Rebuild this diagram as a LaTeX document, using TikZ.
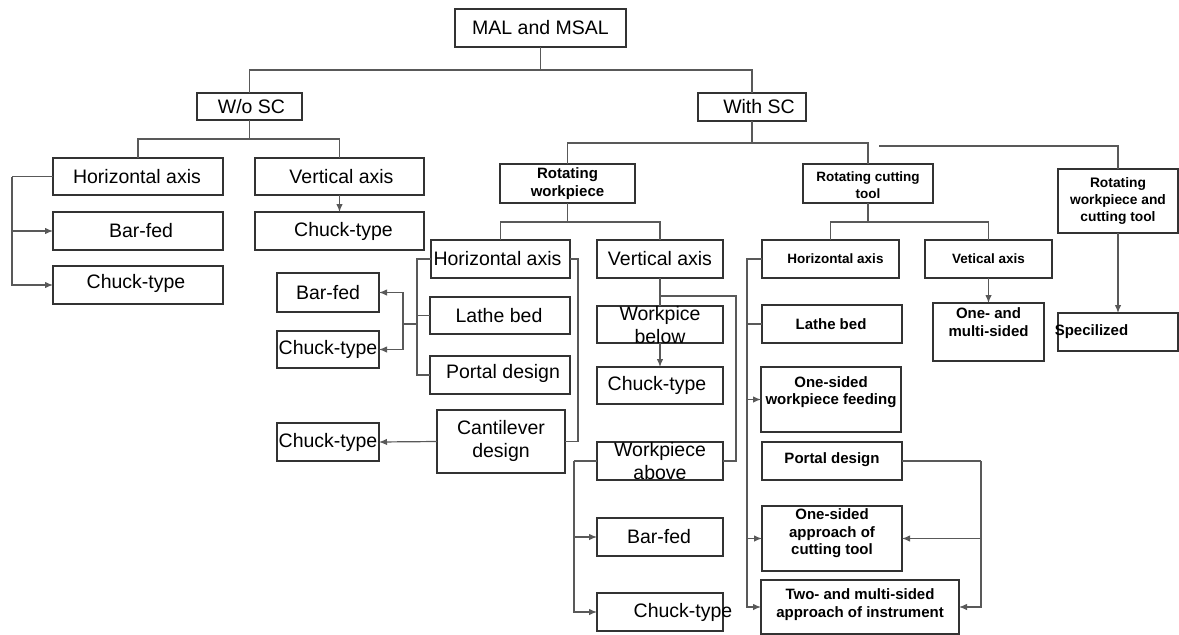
\documentclass[tikz,border=0pt]{standalone}
\usepackage{fontspec}
\setmainfont{Liberation Sans}
\usetikzlibrary{arrows.meta}
\newcommand\mybox[9]{%
  \node[boxst, minimum width={(#4-#2)*1pt}, minimum height={(#5-#3)*1pt}] (#1) at ({(#2+#4)/2},{(#3+#5)/2}) {};
  \node[#6] (#1-t) at ([shift={(#7,#8)}]#1.center) {#9};}
\tikzset{
  boxst/.style={draw=black!80, line width=1.1pt, rectangle, inner sep=0pt, outer sep=0pt},
  rg/.style={font=\fontsize{19.5}{23}\selectfont, align=center, inner sep=0pt},
  bh/.style={font=\bfseries\fontsize{13.5}{16.5}\selectfont, align=center, inner sep=0pt},
  bw/.style={font=\bfseries\fontsize{15}{18}\selectfont, align=center, inner sep=0pt},
  bl/.style={font=\bfseries\fontsize{15}{17.5}\selectfont, align=center, inner sep=0pt},
  ln/.style={draw=black!65, line width=1.2pt},
  arr/.style={ln, -{Latex[length=8pt,width=6.5pt]}}
}
\begin{document}
\begin{tikzpicture}[x=1pt,y=-1pt]
\fill[white] (0,0) rectangle (1179,635);
\useasboundingbox (0,0) rectangle (1179,635);
% top
\mybox{mal}{455}{9}{626}{47}{rg}{0}{0}{MAL and MSAL}
\mybox{wo}{197}{93}{302}{120}{rg}{2}{0}{W/o SC}
\mybox{with}{698}{93}{806}{121}{rg}{7}{0}{With SC}
% left branch
\mybox{lha}{53}{158}{223}{195}{rg}{-1}{0}{Horizontal axis}
\mybox{lva}{255}{158}{424}{195}{rg}{2}{0}{Vertical axis}
\mybox{lbf}{53}{212}{223}{250}{rg}{3}{0}{Bar-fed}
\mybox{lct}{53}{266}{223}{304}{rg}{-2}{-2}{Chuck-type}
\mybox{lvct}{255}{212}{424}{250}{rg}{4}{0}{Chuck-type}
% with SC level
\mybox{rw}{500}{164}{635}{203}{bw}{0}{0}{Rotating\\workpiece}
\mybox{rct}{803}{164}{933}{203}{bh}{0}{1.5}{Rotating cutting\\tool}
\mybox{rwct}{1058}{169}{1178}{233}{font=\bfseries\fontsize{13.8}{17}\selectfont, align=center, inner sep=0pt}{0}{0}{Rotating\\workpiece and\\cutting tool}
\mybox{spec}{1058}{313}{1178}{351}{bl}{-26.5}{0}{Specilized}
% rotating workpiece
\mybox{mha}{431}{240}{570}{278}{rg}{-3}{0}{Horizontal axis}
\mybox{mva}{597}{240}{723}{278}{rg}{0}{0}{Vertical axis}
\mybox{mlb}{430}{297}{570}{334}{rg}{-1}{0}{Lathe bed}
\mybox{mpd}{430}{356}{570}{394}{rg}{3}{-2}{Portal design}
\mybox{cant}{437}{410}{565}{473}{rg}{0}{-1}{Cantilever\\design}
\mybox{bf2}{277}{273}{379}{312}{rg}{0}{0}{Bar-fed}
\mybox{ct2}{277}{331}{379}{368}{rg}{0}{0}{Chuck-type}
\mybox{ct3}{277}{423}{379}{461}{rg}{0}{0}{Chuck-type}
\mybox{wb}{597}{306}{723}{343}{rg}{0}{0.5}{Workpice\\below}
\mybox{ct4}{597}{367}{723}{404}{rg}{-3}{0}{Chuck-type}
\mybox{wa}{597}{442}{723}{480}{rg}{0}{0.5}{Workpiece\\above}
\mybox{bf5}{597}{518}{723}{556}{rg}{-1}{0}{Bar-fed}
\mybox{ct5}{597}{593}{723}{631}{rg}{23}{0}{Chuck-type}
% rotating cutting tool
\mybox{rha}{762}{240}{899}{278}{bh}{5}{0}{Horizontal axis}
\mybox{rva}{925}{240}{1052}{278}{bh}{0}{0}{Vetical axis}
\mybox{oms}{933}{303}{1044}{361}{bl}{0}{-10}{One- and\\multi-sided}
\mybox{rlb}{762}{305}{902}{343}{bl}{-1}{0}{Lathe bed}
\mybox{osf}{761}{367}{901}{432}{bl}{0}{-7.5}{One-sided\\workpiece feeding}
\mybox{rpd}{762}{442}{902}{480}{bl}{0}{-1}{Portal design}
\mybox{osa}{762}{506}{902}{571}{bl}{0}{-5}{One-sided\\approach of\\cutting tool}
\mybox{tms}{761}{580}{959}{634}{bl}{0}{-2.5}{Two- and multi-sided\\approach of instrument}
% junctions
\coordinate (j0) at (540.5,70);
\coordinate (j2) at (249.5,139);
\coordinate (j1) at (752,143);
\coordinate (fr) at (879,146);
\coordinate (j3) at (567.5,222);
\coordinate (j4) at (868,222);
\coordinate (L1) at (12,176.5);
\coordinate (L2) at (417,259);
\coordinate (L3) at (403,324);
\coordinate (R2) at (578,259);
\coordinate (V1) at (660,296);
\coordinate (R3) at (736,296);
\coordinate (L4) at (574,461);
\coordinate (L5) at (747,259);
\coordinate (R5) at (981,461);
% connectors
\draw[ln] (mal.south) -- (j0);
\draw[ln] (wo.north) |- (j0) -| (with.north);
\draw[ln] (wo.south) -- (j2);
\draw[ln] (lha.north) |- (j2) -| (lva.north);
\draw[ln] (lha.west) -- (L1);
\draw[arr] (L1) |- (lbf.west);
\draw[arr] (L1) |- (lct.west);
\draw[arr] (lva.south) -- (lvct.north);
\draw[ln] (with.south) -- (j1);
\draw[ln] (rw.north) |- (j1) -| (rct.north);
\draw[ln] (fr) -| (rwct.north);
\draw[arr] (rwct.south) -- (spec.north);
\draw[ln] (rw.south) -- (j3);
\draw[ln] (mha.north) |- (j3) -| (mva.north);
\draw[ln] (mha.west) -- (L2) |- (mpd.west);
\draw[ln] (L2 |- mlb.west) -- (mlb.west);
\draw[ln] (L3) -- (L3 -| L2);
\draw[arr] (L3) |- (bf2.east);
\draw[arr] (L3) |- (ct2.east);
\draw[ln] (mha.east) -- (R2) |- (cant.east);
\draw[arr] (cant.west) -- (ct3.east);
\draw[ln] (mva.south) -- (wb.north);
\draw[ln] (V1) -- (R3) |- (wa.east);
\draw[arr] (wb.south) -- (ct4.north);
\draw[ln] (wa.west) -- (L4);
\draw[arr] (L4) |- (bf5.west);
\draw[arr] (L4) |- (ct5.west);
\draw[ln] (rct.south) -- (j4);
\draw[ln] (rha.north) |- (j4) -| (rva.north);
\draw[arr] (rva.south) -- (oms.north);
\draw[ln] (rha.west) -- (L5) |- (rlb.west);
\draw[arr] (L5) |- (osf.west);
\draw[arr] (L5) |- (osa.west);
\draw[arr] (L5) |- (tms.west);
\draw[ln] (rpd.east) -- (R5);
\draw[arr] (R5) |- (osa.east);
\draw[arr] (R5) |- (tms.east);
\end{tikzpicture}
\end{document}
